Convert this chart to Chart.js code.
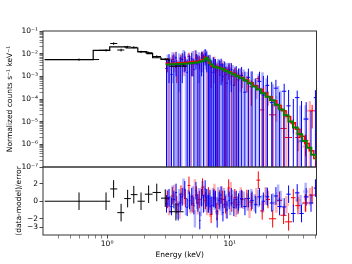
<!DOCTYPE html>
<html>
<head>
<meta charset="utf-8">
<script src="https://cdn.jsdelivr.net/npm/chart.js@4.4.1/dist/chart.umd.min.js"></script>
<style>
  html, body { margin: 0; padding: 0; background: #fff; }
  #wrap { width: 352px; height: 264px; }
</style>
</head>
<body>
<div id="wrap"><canvas id="spec"></canvas></div>
<script>
// Axis ranges and ticks
const xMin = 0.3, xMax = 51;
const xTicks = [0.4, 0.5, 0.6, 0.7, 0.8, 0.9, 1, 2, 3, 4, 5, 6, 7, 8, 9, 10, 20, 30, 40, 50];
const yDecades = [1e-7, 1e-6, 1e-5, 1e-4, 1e-3, 1e-2, 1e-1];
const resTicks = [-3, -2, 0, 2];

// Black data (low energy), bin edges + values
const blackLo = [0.31, 0.86, 1.06, 1.21, 1.38, 1.56, 1.77, 2.03, 2.35, 2.75, 3.2];
const blackHi = [0.86, 1.06, 1.21, 1.38, 1.56, 1.77, 2.03, 2.35, 2.75, 3.2, 4.2];
const blackE = [0.59, 0.98, 1.13, 1.30, 1.47, 1.65, 1.89, 2.18, 2.54, 2.98, 3.64];
const blackY = [5.5e-3, 1.41e-2, 2.8e-2, 1.45e-2, 2.0e-2, 1.9e-2, 1.2e-2, 1.1e-2, 7.5e-3, 5.7e-3, 2.8e-3];
const blackErr = [6e-4, 1.6e-3, 3.5e-3, 2e-3, 2.2e-3, 2e-3, 1.4e-3, 1.2e-3, 9e-4, 7e-4, 4e-4];
const blackRes = [0, 0, 1.4, -1.3, 0.3, 0.75, 0, 0.8, 1.0, 0.35, -1.2];

// Blue data (dark)
const blueE = [3.05, 3.2, 3.35, 3.5, 3.65, 3.8, 3.95, 4.1, 4.3, 4.5, 4.7, 4.9, 5.1, 5.3, 5.5, 5.7, 5.9, 6.1, 6.3, 6.5, 6.7, 6.9,
  7.15, 7.4, 7.65, 7.9, 8.2, 8.5, 8.8, 9.1, 9.5, 9.9, 10.3, 10.8, 11.3, 11.8,
  12.5, 13.3, 14.2, 15.2, 16.3, 17.5, 18.8, 20.3, 22.0, 23.8, 25.5, 27.8, 30.2, 33.0, 35.5, 38.5, 42, 46, 50];
const blueDE = [.07, .07, .07, .07, .07, .07, .07, .07, .07, .07, .07, .07, .07, .07, .07, .07, .07, .07, .07, .07, .07, .07,
  .1, .1, .1, .1, .12, .12, .12, .12, .15, .15, .15, .2, .2, .2,
  .35, .4, .4, .5, .5, .6, .6, .7, .8, .9, 1, 1.1, 1.2, 1.4, 1.5, 1.6, 1.8, 2, 1.5];
const blueY = [2.2e-3, 5.0e-3, 1.2e-3, 4.4e-3, 6.5e-3, -1.0e-3, 3.0e-3, 5.5e-3, 7.0e-3, 1.5e-3, 4.0e-3, 6.0e-3, 2.0e-3, 8.0e-3,
  3.5e-3, -0.5e-3, 6.5e-3, 4.0e-3, 9.5e-3, 7.0e-3, 3.0e-3, 4.5e-3, 1.5e-3, 3.5e-3, 2.8e-3, -0.8e-3, 2.5e-3, 3.2e-3,
  1.0e-3, 2.2e-3, 0.5e-3, 1.8e-3, 2.0e-3, 0.4e-3, 1.3e-3, 0.9e-3,
  1.1e-3, 0.2e-3, 0.9e-3, 0.45e-3, -0.3e-3, 0.6e-3, 0.15e-3, 0.4e-3, 6.9e-5, 3e-4, -1e-4, 2.2e-4, 5e-5, -5e-5,
  1.15e-4, 1.4e-6, 1.3e-5, -2e-5, 1.15e-4];
const blueErr = [3.5e-3, 4.5e-3, 4.0e-3, 5.0e-3, 5.5e-3, 4.5e-3, 4.0e-3, 5.0e-3, 5.5e-3, 4.0e-3, 4.5e-3, 5.0e-3, 4.0e-3, 6.0e-3,
  5.0e-3, 4.5e-3, 5.5e-3, 5.0e-3, 6.5e-3, 5.5e-3, 4.5e-3, 4.5e-3, 3.5e-3, 3.5e-3, 3.0e-3, 3.0e-3, 2.8e-3, 2.8e-3,
  2.5e-3, 2.2e-3, 2.0e-3, 2.0e-3, 1.8e-3, 1.6e-3, 1.5e-3, 1.3e-3,
  1.5e-3, 1.4e-3, 1.3e-3, 1.2e-3, 1.1e-3, 1.0e-3, 0.9e-3, 0.7e-3, 5e-4, 4e-4, 3e-4, 2.5e-4, 2e-4, 1.5e-4,
  1.2e-4, 8e-5, 6e-5, 5e-5, 1.3e-4];
const blueRes = [-0.3, 0.4, -0.6, 0.2, 1.0, -1.2, -0.2, 0.5, 1.3, -0.7, 0.1, 0.5, -0.5, 1.2, -0.2, -2.2, 0.4, -0.3, 1.4, 0.4,
  -0.3, 0.3, -0.5, 0.3, 0.2, -2.0, 0.1, 0.7, -1.3, 0.2, -1.0, 0.1, 0.5, -0.7, 0.2, -0.1,
  0.3, -0.6, 0.3, 0.1, -0.4, 0.5, 0.0, 0.5, -0.2, 0.6, -0.6, -0.65, 0.8, -1.4, 0.95, -1.4, 0.5, -0.2, 1.5];

// Blue data (light)
const lblueE = [3.12, 3.28, 3.42, 3.58, 3.72, 3.88, 4.02, 4.2, 4.4, 4.6, 4.8, 5.0, 5.2, 5.4, 5.6, 5.8, 6.0, 6.2, 6.4, 6.6, 6.8,
  7.0, 7.3, 7.55, 7.8, 8.05, 8.35, 8.65, 8.95, 9.3, 9.7, 10.1, 10.55, 11.05, 11.55, 12.1,
  13.0, 14.0, 15.0, 16.0, 17.2, 18.5, 20.0, 22.5, 24.8, 26, 37.8, 41.6];
const lblueDE = [.07, .07, .07, .07, .07, .07, .07, .07, .07, .07, .07, .07, .07, .07, .07, .07, .07, .07, .07, .07, .07,
  .1, .1, .1, .1, .1, .12, .12, .12, .12, .15, .15, .15, .2, .2, .2,
  .4, .4, .5, .5, .6, .6, .7, .8, .9, 1.0, 1.6, 1.8];
const lblueY = [4.2e-3, 2.5e-3, 6.0e-3, 3.0e-3, 1.0e-3, 5.2e-3, 3.6e-3, 8.0e-3, 2.0e-3, 5.0e-3, 3.2e-3, 7.0e-3, -0.5e-3, 4.5e-3,
  6.0e-3, 2.5e-3, 7.5e-3, 5.0e-3, 8.5e-3, 4.0e-3, 3.0e-3,
  2.0e-3, 3.5e-3, 2.6e-3, 1.5e-3, 3.0e-3, 2.0e-3, 1.2e-3, 2.4e-3, 1.6e-3, 2.0e-3, 0.8e-3, 1.5e-3, 1.2e-3, 0.5e-3, 1.0e-3,
  0.7e-3, 0.4e-3, 0.55e-3, -0.2e-3, 0.3e-3, 1.0e-4, 2.0e-4, 5e-5, 1.2e-4, 3.5e-5, 1.3e-6, 1.3e-5];
const lblueErr = [5.0e-3, 4.5e-3, 5.5e-3, 5.0e-3, 4.0e-3, 5.0e-3, 4.5e-3, 6.5e-3, 4.0e-3, 5.0e-3, 4.5e-3, 6.0e-3, 4.0e-3, 5.0e-3,
  5.5e-3, 4.5e-3, 6.0e-3, 5.5e-3, 6.5e-3, 5.0e-3, 4.0e-3,
  3.5e-3, 3.5e-3, 3.2e-3, 3.0e-3, 3.0e-3, 2.8e-3, 2.6e-3, 2.4e-3, 2.2e-3, 2.0e-3, 1.8e-3, 1.7e-3, 1.5e-3, 1.4e-3, 1.3e-3,
  1.3e-3, 1.2e-3, 1.1e-3, 1.0e-3, 1.0e-3, 1.4e-3, 6e-4, 4e-4, 2.5e-4, 2e-4, 5e-5, 4e-5];
const lblueRes = [0.3, -0.4, 0.8, -0.1, -1.0, 0.4, 0.0, 1.6, -0.6, 0.3, -0.2, 0.7, -2.0, 0.1, 0.5, -0.7, 1.3, -0.2, 0.4, -0.3, 0.0,
  -0.4, 0.5, 0.0, -0.5, 0.6, -0.1, -0.6, 0.5, -0.2, 0.4, -0.6, 0.3, 0.1, -0.5, 0.2,
  0.1, -0.1, 0.4, -0.2, 0.3, -0.3, 0.6, -0.1, 0.9, 0.2, -0.3, 1.1];

// Red data (dark)
const redE = [3.1, 3.4, 3.7, 4.0, 4.35, 4.65, 5.0, 5.35, 5.65, 6.0, 6.35, 6.7, 7.05, 7.45, 7.85, 8.3, 8.75, 9.25, 9.8, 10.4,
  11.0, 11.7, 12.6, 13.8, 15.0, 17.1, 18.4, 20.5, 22.4, 25.5, 27.5, 30.2, 33, 36, 41.5, 47];
const redDE = [.1, .1, .1, .12, .12, .12, .15, .15, .15, .15, .15, .15, .18, .18, .2, .2, .22, .25, .25, .3,
  .3, .35, .4, .5, .55, .6, .7, .8, 1.5, 1.2, 1.6, 2, 1.5, 1.8, 2.2, 2.6];
const redY = [4.0e-3, 5.5e-3, 3.0e-3, 6.0e-3, 4.5e-3, 7.5e-3, 3.5e-3, 6.5e-3, 5.0e-3, 8.0e-3, 7.0e-3, 5.5e-3, 2.5e-3, 3.5e-3,
  1.8e-3, 2.8e-3, 2.2e-3, 1.2e-3, 2.0e-3, 1.0e-3, 1.4e-3, 0.7e-3, 0.9e-3, 0.6e-3, 0.35e-3, 8e-4, 3.3e-5, 1.3e-4, 2e-5,
  4e-5, 5e-6, 2e-6, 8e-6, 2e-6, 1.5e-6, 3e-5];
const redErr = [2.5e-3, 3.0e-3, 2.5e-3, 3.0e-3, 2.8e-3, 3.5e-3, 2.5e-3, 3.2e-3, 3.0e-3, 3.5e-3, 3.2e-3, 3.0e-3, 2.2e-3, 2.2e-3,
  1.8e-3, 1.8e-3, 1.6e-3, 1.4e-3, 1.3e-3, 1.1e-3, 1.0e-3, 0.8e-3, 0.6e-3, 0.4e-3, 0.3e-3, 2.5e-4, 1.2e-4, 8e-5, 4e-5,
  2.5e-5, 1.5e-5, 8e-6, 5e-6, 1.5e-6, 1.2e-6, 2.5e-5];
const redRes = [0.2, 0.6, -0.4, 0.8, 0.3, 1.8, -0.3, 0.7, 0.2, 1.6, 0.1, 0.6, -1.5, 0.4, -1.2, 0.3, 0.2, -0.4, 1.5, -0.2,
  0.4, -0.4, 0.2, 0.3, -0.1, 2.4, -1.1, 0.2, -2.0, 0.1, -1.6, -2.35, 0.4, -0.5, -0.2, 0.7];

// Red data (light)
const lredE = [3.2, 3.55, 3.9, 4.25, 4.8, 5.2, 5.5, 5.85, 6.2, 6.55, 6.95, 7.5, 8.0, 8.6, 9.4, 10.2, 11.2, 12.3, 14.5, 16.5,
  19.6, 24, 29, 36, 41.5, 45];
const lredDE = [.1, .1, .12, .12, .15, .15, .15, .15, .15, .15, .18, .2, .2, .22, .25, .3, .3, .4, .5, .6, .8, 1.2, 1.5, 1.8, 2.2, 2.4];
const lredY = [2.0e-3, 6.5e-3, 1.0e-3, 5.5e-3, 2.5e-3, 8.5e-3, 3.0e-3, 6.0e-3, 9.0e-3, 3.5e-3, 2.0e-3, 4.0e-3, 1.5e-3, 3.0e-3,
  0.8e-3, 2.2e-3, 0.6e-3, 1.2e-3, 0.2e-3, 0.4e-3, 0.2e-3, 5e-5, 1.5e-5, 3e-6, 8e-7, 3e-5];
const lredErr = [4.5e-3, 5.0e-3, 4.0e-3, 4.5e-3, 4.0e-3, 5.5e-3, 4.0e-3, 4.5e-3, 5.0e-3, 4.0e-3, 3.5e-3, 3.5e-3, 2.5e-3, 2.5e-3,
  2.0e-3, 1.8e-3, 1.4e-3, 1.0e-3, 0.5e-3, 0.3e-3, 0.2e-3, 4e-5, 1.5e-5, 3e-6, 1.5e-6, 5e-5];
const lredRes = [-0.6, 0.9, -1.0, 0.6, -0.4, 1.5, -0.5, 0.5, 0.8, -0.6, -0.8, 1.0, -0.6, 0.7, -0.9, 1.2, -0.8, 0.6, -0.9, 0.5,
  0.6, -0.3, -0.4, 0.1, -0.2, 0.5];

// Models (step lines, value holds from each edge to the next)
const blackModelE = [0.31, 0.77, 1.05, 1.43, 1.78, 2.11, 2.35, 2.75, 3.2, 4.2, 4.5];
const blackModelY = [5.5e-3, 1.41e-2, 2.0e-2, 1.78e-2, 1.23e-2, 1.0e-2, 6.6e-3, 5.6e-3, 3.4e-3, 2.8e-3, 2.8e-3];
const greenModelE = [3.0, 3.3, 3.6, 4.0, 4.4, 4.8, 5.2, 5.6, 5.9, 6.2, 6.4, 6.6, 6.9, 7.3, 7.8, 8.4, 9.0, 9.7, 10.4, 11.2,
  12.0, 13.0, 14.0, 15.2, 16.5, 18.0, 19.6, 21.3, 23.2, 25.3, 27.6, 30.1, 32.8, 35.8, 39.0, 42.5, 46.3, 50.5];
const greenModelY = [3.31e-3, 3.39e-3, 3.47e-3, 3.63e-3, 3.72e-3, 3.89e-3, 4.07e-3, 4.37e-3, 4.79e-3, 5.75e-3, 6.61e-3,
  5.01e-3, 3.31e-3, 2.63e-3, 2.40e-3, 2.09e-3, 1.74e-3, 1.45e-3, 1.20e-3, 1.02e-3, 8.3e-4, 6.5e-4, 4.9e-4, 3.6e-4,
  2.6e-4, 1.8e-4, 1.26e-4, 8.7e-5, 5.6e-5, 3.4e-5, 1.9e-5, 1.02e-5, 5.5e-6, 2.8e-6, 1.4e-6, 7.1e-7, 3.5e-7, 1.9e-7];
const redModelE = [3.0, 3.4, 3.8, 4.2, 4.6, 5.0, 5.5, 5.9, 6.2, 6.45, 6.7, 7.0, 7.5, 8.1, 8.8, 9.5, 10.3, 11.1, 12.0, 13.1,
  14.3, 15.6, 17.0, 18.6, 20.3, 22.2, 24.2, 26.4, 28.8, 31.4, 34.3, 37.4, 40.8, 44.5, 48.5, 50.8];
const redModelY = [3.72e-3, 3.80e-3, 3.98e-3, 4.07e-3, 4.27e-3, 4.47e-3, 4.79e-3, 5.50e-3, 6.92e-3, 6.03e-3, 3.80e-3,
  2.88e-3, 2.63e-3, 2.29e-3, 1.91e-3, 1.58e-3, 1.32e-3, 1.10e-3, 8.9e-4, 6.9e-4, 5.2e-4, 3.8e-4, 2.7e-4, 1.8e-4,
  1.26e-4, 8.3e-5, 5.2e-5, 3.0e-5, 1.7e-5, 8.9e-6, 4.6e-6, 2.3e-6, 1.1e-6, 5.2e-7, 2.4e-7, 1e-7];

const SUP = { '-': '\u207B', '0': '\u2070', '1': '\u00B9', '2': '\u00B2', '3': '\u00B3', '4': '\u2074',
  '5': '\u2075', '6': '\u2076', '7': '\u2077', '8': '\u2078', '9': '\u2079' };
function pow10Label(v) {
  const e = Math.round(Math.log10(v));
  if (Math.abs(Math.log10(v) - e) > 1e-6) return '';
  return '10' + String(e).split('').map(c => SUP[c]).join('');
}

// build error-bar points: flux panel and residual panel
function fluxPoints(E, dE, Y, err) {
  return E.map((e, i) => ({ x: e, y: Y[i], xl: e - dE[i], xh: e + dE[i], yl: Y[i] - err[i], yh: Y[i] + err[i] }));
}
function resPoints(E, dE, R) {
  return E.map((e, i) => ({ x: e, y: R[i], xl: e - dE[i], xh: e + dE[i], yl: R[i] - 1, yh: R[i] + 1 }));
}
function blackFlux() {
  return blackE.map((e, i) => ({ x: e, y: blackY[i], xl: blackLo[i], xh: blackHi[i],
    yl: blackY[i] - blackErr[i], yh: blackY[i] + blackErr[i] }));
}
function blackResid() {
  return blackE.map((e, i) => ({ x: e, y: blackRes[i], xl: blackLo[i], xh: blackHi[i],
    yl: blackRes[i] - 1, yh: blackRes[i] + 1 }));
}

function stepLine(E, Y, color, width) {
  return { type: 'line', yAxisID: 'y', data: E.map((e, i) => ({ x: e, y: Y[i] })), stepped: true,
    borderColor: color, borderWidth: width, pointRadius: 0, fill: false };
}
function bars(data, axis, color, width) {
  return { type: 'scatter', yAxisID: axis, data: data, errorBars: true, borderColor: color,
    borderWidth: width, pointRadius: 0, showLine: false };
}

const LRED = 'rgba(255,0,0,0.3)', RED = '#ff0000', LBLUE = 'rgba(0,0,255,0.3)', BLUE = '#0000ff';

// Draw error bars through the chart's scales, clipped to each panel
const errorBars = {
  id: 'errorBars',
  beforeDatasetsDraw(chart) {
    const ctx = chart.ctx, area = chart.chartArea, xs = chart.scales.x;
    chart.data.datasets.forEach(ds => {
      if (!ds.errorBars) return;
      const ys = chart.scales[ds.yAxisID];
      const isLog = ys.type === 'logarithmic';
      const py = v => (isLog && v <= ys.min) ? ys.bottom + 5 : ys.getPixelForValue(v);
      ctx.save();
      ctx.beginPath();
      ctx.rect(area.left, ys.top, area.right - area.left, ys.bottom - ys.top);
      ctx.clip();
      ctx.strokeStyle = ds.borderColor;
      ctx.lineWidth = ds.borderWidth;
      ds.data.forEach(p => {
        const x = xs.getPixelForValue(p.x);
        ctx.beginPath();
        ctx.moveTo(x, py(p.yh));
        ctx.lineTo(x, py(p.yl));
        if (!(isLog && p.y <= ys.min)) {
          const y = py(p.y);
          ctx.moveTo(xs.getPixelForValue(p.xl), y);
          ctx.lineTo(xs.getPixelForValue(p.xh), y);
        }
        ctx.stroke();
      });
      ctx.restore();
    });
  },
  afterDatasetsDraw(chart) {
    const ctx = chart.ctx, area = chart.chartArea;
    ctx.save();
    ctx.strokeStyle = '#333';
    ctx.lineWidth = 1;
    ['y', 'r'].forEach(id => {
      const s = chart.scales[id];
      ctx.strokeRect(area.left, s.top, area.right - area.left, s.bottom - s.top);
    });
    ctx.restore();
  }
};

Chart.defaults.font.family = 'DejaVu Sans';
Chart.defaults.font.size = 7.5;
Chart.defaults.color = '#000';

const tickGrid = {
  display: true, drawOnChartArea: false, drawTicks: true, tickLength: 3.5, color: '#333',
  tickColor: '#333', tickWidth: c => (c.tick && c.tick.major ? 0.9 : 0.6)
};

new Chart(document.getElementById('spec'), {
  type: 'scatter',
  data: {
    datasets: [
      { type: 'line', yAxisID: 'r', data: [{ x: xMin, y: 0 }, { x: xMax, y: 0 }], borderColor: '#008000',
        borderWidth: 1.5, pointRadius: 0 },
      stepLine(greenModelE, greenModelY, '#008000', 2),
      stepLine(redModelE, redModelY, '#ff0000', 1.5),
      stepLine(blackModelE, blackModelY, '#000000', 1.2),
      bars(fluxPoints(lredE, lredDE, lredY, lredErr), 'y', LRED, 2.5),
      bars(fluxPoints(redE, redDE, redY, redErr), 'y', RED, 1),
      bars(fluxPoints(lblueE, lblueDE, lblueY, lblueErr), 'y', LBLUE, 2.5),
      bars(fluxPoints(blueE, blueDE, blueY, blueErr), 'y', BLUE, 1),
      bars(blackFlux(), 'y', '#000', 1),
      bars(resPoints(lredE, lredDE, lredRes), 'r', LRED, 2.5),
      bars(resPoints(redE, redDE, redRes), 'r', RED, 1),
      bars(resPoints(lblueE, lblueDE, lblueRes), 'r', LBLUE, 2.5),
      bars(resPoints(blueE, blueDE, blueRes), 'r', BLUE, 1),
      bars(blackResid(), 'r', '#000', 1)
    ]
  },
  options: {
    responsive: true,
    maintainAspectRatio: false,
    animation: false,
    events: [],
    layout: { padding: { top: 31, right: 35.5, left: 0, bottom: 0 } },
    plugins: { legend: { display: false }, tooltip: { enabled: false } },
    scales: {
      // in a vertical stack the later axis sits on top, so the residual axis comes first
      r: {
        type: 'linear', position: 'left', stack: 'v', stackWeight: 1,
        min: -3.85, max: 3.9,
        border: { display: false },
        grid: tickGrid,
        afterBuildTicks: s => { s.ticks = resTicks.map(v => ({ value: v, major: true })); },
        afterFit: s => { s.width = 43; },
        ticks: { autoSkip: false, padding: 1.5, callback: v => (v < 0 ? '\u2212' + Math.abs(v) : String(v)) },
        title: { display: true, text: '(data-model)/error', padding: { top: 15, bottom: 0 } }
      },
      y: {
        type: 'logarithmic', position: 'left', stack: 'v', stackWeight: 2,
        min: 1e-7, max: 1e-1,
        border: { display: false },
        grid: tickGrid,
        afterBuildTicks: s => {
          const t = [];
          yDecades.forEach(d => {
            t.push({ value: d, major: true });
            if (d < 1e-1) [2, 3, 4, 5, 6, 7, 8, 9].forEach(m => t.push({ value: d * m, major: false }));
          });
          s.ticks = t;
        },
        afterFit: s => { s.width = 43; },
        ticks: { autoSkip: false, padding: 1.5, callback: v => pow10Label(v) },
        title: { display: true, text: 'Normalized counts s\u207B\u00B9 keV\u207B\u00B9', padding: { top: 6, bottom: 0 } }
      },
      x: {
        type: 'logarithmic', position: 'bottom', min: xMin, max: xMax,
        border: { display: false },
        grid: tickGrid,
        afterBuildTicks: s => { s.ticks = xTicks.map(v => ({ value: v, major: v === 1 || v === 10 })); },
        afterFit: s => { s.height = 29; },
        ticks: { autoSkip: false, maxRotation: 0, padding: 1, callback: v => (v === 1 || v === 10 ? pow10Label(v) : '') },
        title: { display: true, text: 'Energy (keV)', padding: { top: 0, bottom: 4 } }
      }
    }
  },
  plugins: [errorBars]
});
</script>
</body>
</html>
